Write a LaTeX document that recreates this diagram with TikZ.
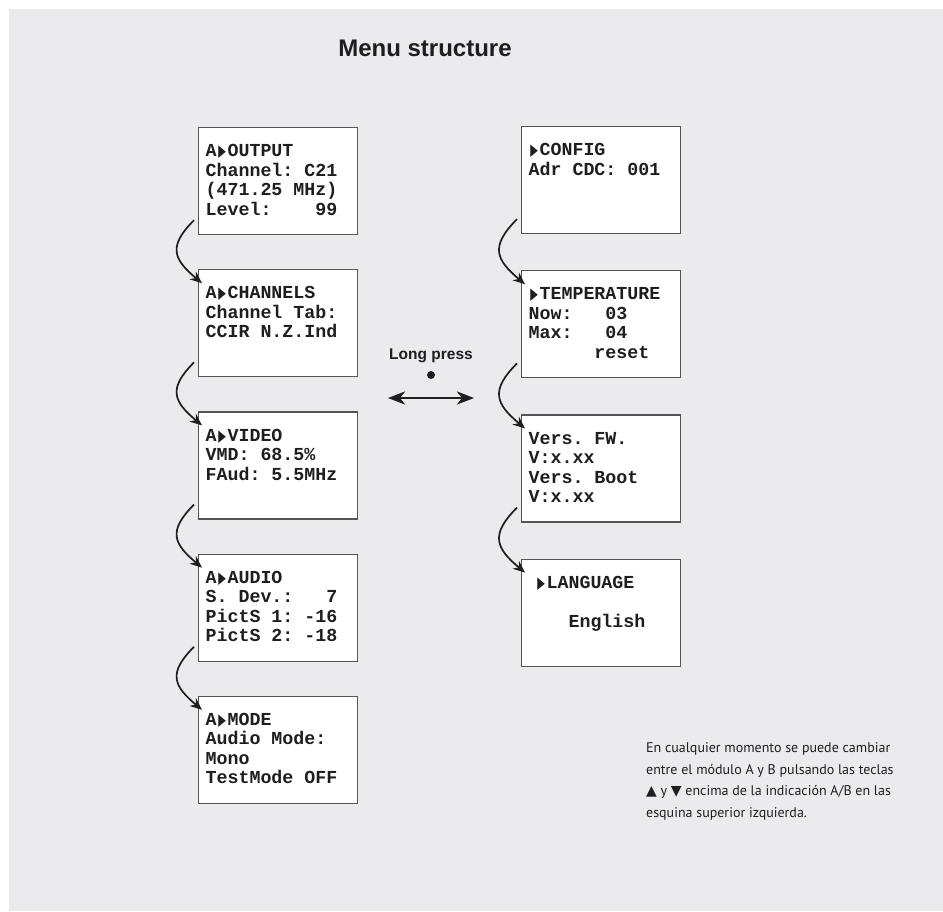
\documentclass[tikz,border=0pt]{standalone}
\usepackage{fontspec}
\usepackage{graphicx}
\usetikzlibrary{arrows.meta,positioning,calc}
\newfontfamily\lcdfont{Liberation Mono}
\newfontfamily\headfont{Liberation Sans}
\newfontfamily\notefont{PT Sans}
\newfontfamily\symfont{DejaVu Sans}
\definecolor{panel}{RGB}{235,235,237}
\definecolor{frame}{RGB}{85,85,85}
\definecolor{ink}{RGB}{30,30,30}
\newcommand\ptr{\makebox[0.6em][c]{\scalebox{0.6}[1]{\symfont\fontsize{16.5}{16.5}\selectfont ▶}}}
\tikzset{screen/.style={draw=frame, line width=1.2pt, fill=white, inner sep=0pt,
    minimum width=159pt, text=ink,
    execute at begin node={\begin{minipage}[c][107pt][t]{145pt}\frenchspacing
      \lcdfont\bfseries\fontsize{18.3}{19.5}\selectfont\vspace*{15.35pt}\strut},
    execute at end node={\end{minipage}}}, }
\tikzset{nextarrow/.style={-{Stealth[length=12pt,width=10pt]}, line width=1.7pt, draw=ink}}
\tikzset{swaparrow/.style={{Stealth[length=17pt,width=13pt,inset=5pt]}-{Stealth[length=17pt,width=13pt,inset=5pt]},
    line width=2.8pt, draw=ink}}
\tikzset{heading/.style={font=\headfont\bfseries\fontsize{24}{28}\selectfont, text=ink, anchor=base}, }
\tikzset{hint/.style={font=\headfont\bfseries\fontsize{15.5}{18}\selectfont, text=ink, anchor=base}, }
\tikzset{note/.style={font=\notefont\fontsize{14}{21.5}\selectfont, text=ink, align=left,
    anchor=base west, inner sep=0pt}, }

\begin{document}
\begin{tikzpicture}[x=1pt,y=1pt]
  \useasboundingbox (0,0) rectangle (943,-911);
  \fill[panel] (9,-9) rectangle (943,-911);
  \node[heading] (title) at (425,-56) {Menu structure};
  % module A
  \node[screen, anchor=north west] (out) at (198,-127) {A\ptr OUTPUT\\Channel: C21\\(471.25 MHz)\\Level:~~~~99};
  \node[screen] (chan) [below=34pt of out] {A\ptr CHANNELS\\Channel Tab:\\CCIR N.Z.Ind};
  \node[screen] (vid) [below=34pt of chan] {A\ptr VIDEO\\VMD: 68.5\%\\FAud: 5.5MHz};
  \node[screen] (aud) [below=34pt of vid] {A\ptr AUDIO\\S. Dev.:~~~7\\PictS 1: -16\\PictS 2: -18};
  \node[screen] (mode) [below=34pt of aud] {A\ptr MODE\\Audio Mode:\\Mono\\TestMode OFF};
  % config
  \node[screen, anchor=north west] (conf) at (521,-126) {\ptr CONFIG\\Adr CDC: 001};
  \node[screen] (temp) [below=36pt of conf] {\ptr TEMPERATURE\\Now:~~~03\\Max:~~~04\\\hspace*{3.6em}reset};
  \node[screen] (vers) [below=36pt of temp] {Vers. FW.\\V:x.xx\\Vers. Boot\\V:x.xx};
  \node[screen] (lang) [below=36pt of vers] {\hspace*{7pt}\ptr LANGUAGE\\\mbox{}\\\hspace*{7pt}~~~English};
\foreach \a/\b in {out/chan,chan/vid,vid/aud,aud/mode,conf/temp,temp/vers,vers/lang}
  \draw[nextarrow] ($(\a.south west)+(-4,15)$) to[out=225,in=140,looseness=1.5] ($(\b.north west)+(4,-14)$);
  % long press
  \node[hint] (press) at (431,-359) {Long press};
  \node[circle, fill=ink, inner sep=0pt, minimum size=8pt] (dot) at (431,-375) {};
  \coordinate (swl) at (388,-398);
  \coordinate (swr) at (474,-398);
  \draw[swaparrow] (swl) -- (swr);
  \node[note] (hint) at (646,-817) {En cualquier momento se puede cambiar\\entre el módulo A y B pulsando las teclas\\{\symfont ▲} y {\symfont ▼} encima de la indicación A/B en las\\esquina superior izquierda.};
\end{tikzpicture}
\end{document}
